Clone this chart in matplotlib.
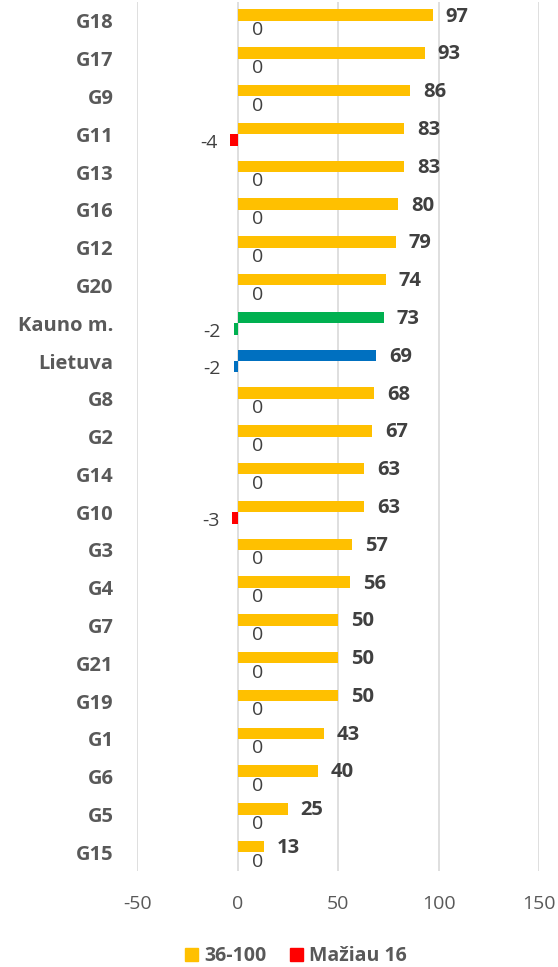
import numpy as np
import matplotlib.pyplot as plt

plt.rcParams['font.family'] = ['Open Sans', 'DejaVu Sans']

# categories from top to bottom
categories = ['G18', 'G17', 'G9', 'G11', 'G13', 'G16', 'G12', 'G20', 'Kauno m.', 'Lietuva',
              'G8', 'G2', 'G14', 'G10', 'G3', 'G4', 'G7', 'G21', 'G19', 'G1', 'G6', 'G5', 'G15']
high_values = [97, 93, 86, 83, 83, 80, 79, 74, 73, 69, 68, 67, 63, 63, 57, 56, 50, 50, 50, 43, 40, 25, 13]
low_values = [0, 0, 0, -4, 0, 0, 0, 0, -2, -2, 0, 0, 0, -3, 0, 0, 0, 0, 0, 0, 0, 0, 0]
series_names = ['36-100', 'Mažiau 16']
x_ticks = [-50, 0, 50, 100, 150]

yellow = '#FFC000'
red = '#FF0000'
special = {'Kauno m.': '#00B050', 'Lietuva': '#0070C0'}
text_col = '#595959'
label_col = '#404040'

fig = plt.figure(figsize=(5.58, 9.67), dpi=100)
ax = fig.add_axes([0.246, 0.099, 0.720, 0.899])

y = np.arange(len(categories))
h = 0.30
high_cols = [special.get(c, yellow) for c in categories]
low_cols = [special.get(c, red) for c in categories]

ax.barh(y - h / 2, high_values, height=h, color=high_cols, zorder=3)
ax.barh(y + h / 2, low_values, height=h, color=low_cols, zorder=3)

for yi, v in zip(y, high_values):
    ax.annotate(str(v), (v, yi - h / 2), xytext=(9, -1), textcoords='offset points',
                ha='left', va='center', fontsize=14.5, fontweight='bold', color=label_col)
for yi, v in zip(y, low_values):
    if v < 0:
        ax.annotate(str(v), (v, yi + h / 2), xytext=(-9, -2), textcoords='offset points',
                    ha='right', va='center', fontsize=14, color=label_col)
    else:
        ax.annotate(str(v), (v, yi + h / 2), xytext=(10, -2.5), textcoords='offset points',
                    ha='left', va='center', fontsize=14, color=label_col)

ax.set_xlim(-50, 150)
ax.set_ylim(len(categories) - 0.5, -0.5)
ax.set_xticks(x_ticks)
ax.set_xticklabels([str(t) for t in x_ticks])
ax.set_yticks(y)
ax.set_yticklabels(categories)
for lab in ax.get_yticklabels():
    lab.set_fontweight('bold')
ax.tick_params(axis='y', length=0, pad=17, labelsize=14.5, labelcolor=text_col)
ax.tick_params(axis='x', length=0, pad=17, labelsize=14, labelcolor=text_col)
ax.grid(axis='x', color='#D9D9D9', linewidth=1.2, zorder=0)
for s in ax.spines.values():
    s.set_visible(False)

handles = [plt.Rectangle((0, 0), 1, 1, color=yellow), plt.Rectangle((0, 0), 1, 1, color=red)]
leg = fig.legend(handles, series_names, loc='center', bbox_to_anchor=(0.53, 0.011), ncol=2,
                 frameon=False, handlelength=0.7, handleheight=0.7, handletextpad=0.3,
                 columnspacing=1.2, prop={'size': 14, 'weight': 'bold'})
for t in leg.get_texts():
    t.set_color(text_col)

fig.savefig('out.png', dpi=100)
